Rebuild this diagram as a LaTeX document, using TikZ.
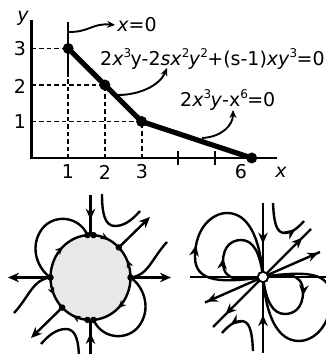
\documentclass[tikz,border=0pt]{standalone}
\usepackage{fontspec}
\setmainfont{DejaVu Sans}
\usetikzlibrary{arrows.meta,decorations.markings}
\newcommand\mysup[1]{\raisebox{0.45em}{\fontsize{12}{13}\selectfont #1}\kern-0.6pt}
\begin{document}
\begin{tikzpicture}[x=1pt,y=1pt,
  lbl/.style={font=\fontsize{19}{22}\selectfont, inner sep=0pt},
  bigdot/.style={circle, fill=black, inner sep=0pt, minimum size=11pt},
  smalldot/.style={circle, fill=black, inner sep=0pt, minimum size=6.5pt},
  axisline/.style={line width=2.6pt},
  dashline/.style={line width=1.9pt, dash pattern=on 4.5pt off 3pt},
  crv/.style={line width=2.4pt},
  pointer/.style={line width=1.9pt, -{Stealth[length=8pt,width=7pt]}},
  tipend/.style={line width=2.4pt, -{Stealth[length=11pt,width=9.5pt]}},
  marr/.style={postaction={decorate}, decoration={markings, mark=at position #1 with {\arrow{Stealth[length=11pt,width=9.5pt]}}}},
  sarr/.style={postaction={decorate}, decoration={markings, mark=at position #1 with {\arrow{Stealth[length=8pt,width=7pt]}}}},
]
\useasboundingbox (0,0) rectangle (326,354);
\clip (0,0) rectangle (326,354);

% ---------------- top: Newton polygon ----------------
\begin{scope}[shift={(31.5pt,196pt)}, x=36.7pt, y=36.5pt]
  \coordinate (p1) at (1,3);
  \coordinate (p2) at (2,2);
  \coordinate (p3) at (3,1);
  \coordinate (p6) at (6,0);
  \coordinate (ya) at (0,3);
  \coordinate (yb) at (0,2);
  \coordinate (yc) at (0,1);
  \coordinate (xa) at (1,0);
  \coordinate (xb) at (2,0);
  \coordinate (xc) at (3,0);
  \draw[dashline] (ya) -| (xa);
  \draw[dashline] (yb) -| (xb);
  \draw[dashline] (yc) -| (xc);
  \coordinate (ytop) at (0,3.78);
  \coordinate (xend) at (6.69,0);
  \draw[axisline] (ytop) |- (xend);
  \coordinate (t4a) at (4,-0.18);
  \coordinate (t4b) at (4,0.18);
  \coordinate (t5a) at (5,-0.18);
  \coordinate (t5b) at (5,0.18);
  \draw[line width=2.2pt] (t4a) -- (t4b);
  \draw[line width=2.2pt] (t5a) -- (t5b);
  \coordinate (z1) at (1,2.22);
  \coordinate (z2) at (1,3.73);
  \draw[line width=1.9pt] (z1) -- (z2);
  \draw[line width=5.2pt, line join=round] (p1) -- (p2) -- (p3) -- (p6);
  \node[bigdot] (d1) at (p1) {};
  \node[bigdot] (d2) at (p2) {};
  \node[bigdot] (d3) at (p3) {};
  \node[bigdot] (d6) at (p6) {};
\end{scope}

\node[lbl] (ly) at (23,336) {\itshape y};
\node[lbl] (n3) at (20,305) {3};
\node[lbl] (n2) at (20,268) {2};
\node[lbl] (n1) at (20,232) {1};
\node[lbl] (m1) at (68,182) {1};
\node[lbl] (m2) at (105,182) {2};
\node[lbl] (m3) at (142,182) {3};
\node[lbl] (m6) at (241,182) {6};
\node[lbl] (lx) at (281,182) {\itshape x};

\node[lbl] (xzero) at (137,329) {\textit{x}=0};
\node[lbl, anchor=west] (f1) at (100,295) {2\textit{x}\mysup{3}y-2\textit{sx}\mysup{2}\textit{y}\mysup{2}+(s-1)\textit{xy}\mysup{3}=0};
\node[lbl, anchor=west] (f2) at (180,254) {2\textit{x}\mysup{3}\textit{y}-x\mysup{6}=0};

\coordinate (a1) at (69,322);
\coordinate (a2) at (118,259);
\coordinate (a3) at (202,216);
\draw[pointer] (a1) .. controls (90,322) and (92,331) .. ([xshift=-2pt]xzero.west);
\draw[pointer] (a2) .. controls (140,259) and (160,269) .. (167,286);
\draw[pointer] (a3) .. controls (222,217) and (233,229) .. (233,244);

% ---------------- bottom left: disc ----------------
\coordinate (C) at (90.5,76.5);
\draw[line width=2.4pt, fill=gray!18] (C) ellipse [x radius=40, y radius=42.5];
\coordinate (dL) at (50.5,76.5);
\coordinate (dR) at (130.5,76.5);
\coordinate (dTL) at (87.5,118.9);
\coordinate (dTR) at (93.5,118.9);
\coordinate (dBL) at (87.5,34.1);
\coordinate (dBR) at (93.5,34.1);
\coordinate (dUR) at (118.8,106.55);
\coordinate (dLL) at (62.2,46.45);
\coordinate (cT) at (90.5,119);
\coordinate (cB) at (90.5,34);

\path[sarr=0.55] (dL) arc [start angle=180, end angle=94.3, x radius=40, y radius=42.5];
\path[sarr=0.55] (dTR) arc [start angle=85.7, end angle=45, x radius=40, y radius=42.5];
\path[sarr=0.55] (dR) arc [start angle=0, end angle=45, x radius=40, y radius=42.5];
\path[sarr=0.55] (dR) arc [start angle=360, end angle=274.3, x radius=40, y radius=42.5];
\path[sarr=0.55] (dBL) arc [start angle=265.7, end angle=225, x radius=40, y radius=42.5];
\path[sarr=0.55] (dL) arc [start angle=180, end angle=225, x radius=40, y radius=42.5];

\coordinate (rT) at (90.5,159);
\coordinate (rB) at (90.5,0);
\coordinate (rL) at (8,76.5);
\coordinate (rR) at (171,76.5);
\coordinate (rUR) at (150,137);
\coordinate (rLL) at (31,16);
\draw[crv, marr=0.62] (rT) -- (cT);
\draw[crv, marr=0.62] (rB) -- (cB);
\draw[tipend] (dL) -- (rL);
\draw[tipend] (dR) -- (rR);
\draw[tipend] (dUR) -- (rUR);
\draw[tipend] (dLL) -- (rLL);

\begin{scope}
  \coordinate (h1) at (102,160);
  \coordinate (h2) at (140,143);
  \coordinate (h3) at (167,112);
  \draw[crv] (dTL) .. controls (78,140) and (50,140) .. (40,122) .. controls (30,105) and (38,85) .. (dL);
  \draw[crv] (h1) .. controls (102,140) and (105,128) .. (115,128) .. controls (125,128) and (133,135) .. (h2);
  \draw[crv] (h3) .. controls (152,96) and (148,78) .. (dR);
\end{scope}
\begin{scope}[rotate around={180:(90.5,76.5)}]
  \coordinate (h1r) at (102,160);
  \coordinate (h2r) at (140,143);
  \coordinate (h3r) at (167,112);
  \draw[crv] (dBR) .. controls (78,140) and (50,140) .. (40,122) .. controls (30,105) and (38,85) .. (dR);
  \draw[crv] (h1r) .. controls (102,140) and (105,128) .. (115,128) .. controls (125,128) and (133,135) .. (h2r);
  \draw[crv] (h3r) .. controls (152,96) and (148,78) .. (dL);
\end{scope}
\node[smalldot] (eL) at (dL) {};
\node[smalldot] (eR) at (dR) {};
\node[smalldot] (eTL) at (dTL) {};
\node[smalldot] (eTR) at (dTR) {};
\node[smalldot] (eBL) at (dBL) {};
\node[smalldot] (eBR) at (dBR) {};
\node[smalldot] (eUR) at (dUR) {};
\node[smalldot] (eLL) at (dLL) {};

% ---------------- bottom right: singular point ----------------
\begin{scope}[shift={(263pt,77pt)}]
  \coordinate (O) at (0,0);
  \coordinate (hl) at (-73,0);
  \coordinate (hr) at (66,0);
  \coordinate (vt) at (0,74);
  \coordinate (vb) at (0,-76);
  \coordinate (q1) at (48,48);
  \coordinate (q3) at (-50,-50);
  \coordinate (s1) at (57,25);
  \coordinate (s3) at (-58,-25.5);
  \draw[line width=1.8pt] (hl) -- (hr);
  \draw[crv, marr=0.55] (vt) -- (O);
  \draw[crv, marr=0.5] (vb) -- (O);
  \draw[crv, marr=0.82] (O) -- (q1);
  \draw[crv, marr=0.75] (O) -- (q3);
  \draw[crv, marr=0.97] (O) -- (s1);
  \draw[crv, marr=0.97] (O) -- (s3);
  \begin{scope}
    \coordinate (k1) at (10,74);
    \coordinate (k2) at (41,56);
    \draw[crv, marr=0.8] (k1) .. controls (11,52) and (14,44) .. (22,44) .. controls (28,44) and (34,48) .. (k2);
    \draw[crv, marr=0.42] (O) .. controls (-40,-6) and (-68,-6) .. (-68,20) .. controls (-68,50) and (-50,64) .. (-36,64) .. controls (-15,64) and (-3,40) .. (O);
    \draw[crv, marr=0.42] (O) .. controls (-20,-3) and (-40,-6) .. (-40,15) .. controls (-40,32) and (-30,37) .. (-22,37) .. controls (-10,37) and (-3,25) .. (O);
  \end{scope}
  \begin{scope}[rotate=180]
    \coordinate (k1r) at (10,74);
    \coordinate (k2r) at (41,56);
    \draw[crv, marr=0.8] (k1r) .. controls (11,52) and (14,44) .. (22,44) .. controls (28,44) and (34,48) .. (k2r);
    \draw[crv, marr=0.42] (O) .. controls (-40,-6) and (-68,-6) .. (-68,20) .. controls (-68,50) and (-50,64) .. (-36,64) .. controls (-15,64) and (-3,40) .. (O);
    \draw[crv, marr=0.42] (O) .. controls (-20,-3) and (-40,-6) .. (-40,15) .. controls (-40,32) and (-30,37) .. (-22,37) .. controls (-10,37) and (-3,25) .. (O);
  \end{scope}
  \node[circle, draw, fill=white, line width=1.9pt, inner sep=0pt, minimum size=10.5pt] (ctr) at (O) {};
\end{scope}
\end{tikzpicture}
\end{document}
